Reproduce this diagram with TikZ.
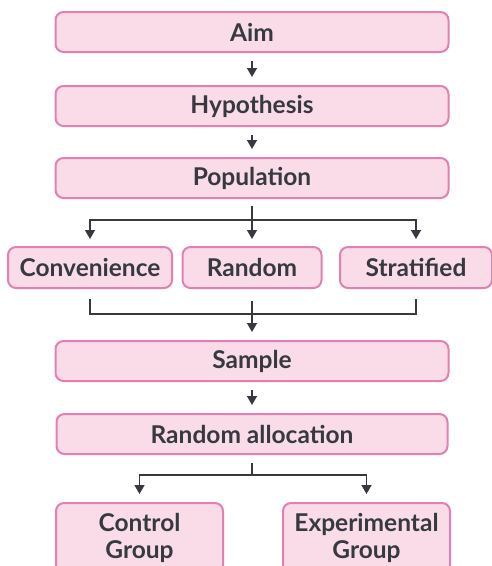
\documentclass[tikz,border=0pt]{standalone}
\usepackage{fontspec}
\setmainfont{Lato}
\usepackage{xcolor}
\usetikzlibrary{positioning}
\usetikzlibrary{calc}
\usetikzlibrary{arrows.meta}

\definecolor{boxfill}{HTML}{F9DCE8}
\definecolor{boxline}{HTML}{E27FB3}
\definecolor{inkgray}{HTML}{363A40}

\begin{document}
\begin{tikzpicture}[x=1pt, y=-1pt,
    box style/.style={
        draw=boxline, fill=boxfill,
        line width=2pt, rounded corners=8pt,
        inner sep=0pt, minimum height=40pt,
        text=inkgray, align=center,
        font=\fontsize{24.5}{27}\selectfont\bfseries
    },
    line edge/.style={inkgray, line width=1.4pt},
    arrow edge/.style={line edge, -{Triangle[width=10pt,length=9pt]}}
]
\useasboundingbox (0,0) rectangle (491,566);

				\node[box style, minimum width=393pt] (aim) at (252,32) {Aim};
				\node[box style, minimum width=393pt] (hyp) at (252,106) {Hypothesis};
				\node[box style, minimum width=393pt] (pop) at (252,178) {Population};
				\node[box style, minimum width=164pt, minimum height=41pt] (conv) at (90,267.5) {Convenience};
				\node[box style, minimum width=139pt, minimum height=41pt] (rand) at (252,267.5) {Random};
				\node[box style, minimum width=152pt, minimum height=41pt] (strat) at (416,267.5) {Stratified};
				\node[box style, minimum width=393pt] (sample) at (252,361) {Sample};
				\node[box style, minimum width=391pt] (alloc) at (252,434) {Random allocation};
				\node[box style, minimum width=167pt, minimum height=70pt] (ctrl) at (139.5,538) {Control\\Group};
				\node[box style, minimum width=167pt, minimum height=70pt] (exper) at (366.5,538) {Experimental\\Group};

				\coordinate (split) at (252,220);
				\coordinate (merge) at (252,314);
				\coordinate (split2) at (252,475);

				\draw[arrow edge, shorten <=8pt, shorten >=8pt] (aim) -- (hyp);
				\draw[arrow edge, shorten <=8pt, shorten >=8pt] (hyp) -- (pop);

				\draw[arrow edge, shorten <=7pt, shorten >=7pt] (pop.south) -- (split) -| (conv.north);
				\draw[arrow edge, shorten <=7pt, shorten >=7pt] (pop.south) -- (split) -| (strat.north);
				\draw[arrow edge, shorten <=7pt, shorten >=7pt] (pop.south) -- (rand.north);

				\draw[line edge, shorten <=10pt, shorten >=10pt] (conv.south) |- (merge) -| (strat.south);
				\draw[arrow edge, shorten <=12pt, shorten >=8pt] (rand.south) -- (sample.north);

				\draw[arrow edge, shorten <=8pt, shorten >=8pt] (sample) -- (alloc);

				\draw[arrow edge, shorten <=8pt, shorten >=8pt] (alloc.south) -- (split2) -| (ctrl.north);
				\draw[arrow edge, shorten <=8pt, shorten >=8pt] (alloc.south) -- (split2) -| (exper.north);
			\end{tikzpicture}
\end{document}
